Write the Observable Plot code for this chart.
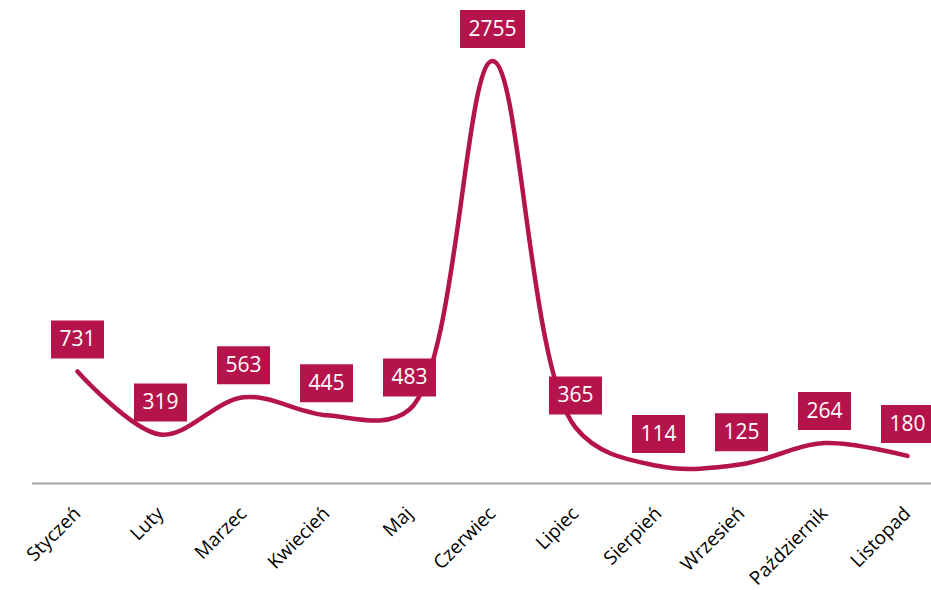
<!DOCTYPE html>
<html>
<head>
<meta charset="utf-8">
<script src="https://cdn.jsdelivr.net/npm/d3@7"></script>
<script src="https://cdn.jsdelivr.net/npm/@observablehq/plot@0.6"></script>
<style>
  html, body { margin: 0; padding: 0; background: #fff; }
</style>
</head>
<body>
<div id="chart"></div>
<script>
const months = ["Styczeń","Luty","Marzec","Kwiecień","Maj","Czerwiec","Lipiec","Sierpień","Wrzesień","Październik","Listopad"];
const values = [731, 319, 563, 445, 483, 2755, 365, 114, 125, 264, 180];

const data = months.map((m, i) => ({month: m, value: values[i]}));
const color = "#b5134b";

function boxSymbol(w, h) {
  return { draw(ctx) { ctx.rect(-w / 2, -h / 2, w, h); } };
}
const box3 = boxSymbol(53, 38);
const box4 = boxSymbol(65, 38);

const chart = Plot.plot({
  width: 931,
  height: 590,
  marginTop: 23,
  marginBottom: 107,
  marginLeft: 32,
  marginRight: 0,
  style: {fontFamily: "'Open Sans', sans-serif", background: "#fff"},
  x: {type: "point", domain: months, range: [73, 911], padding: 0},
  y: {domain: [0, 3000], axis: null},
  marks: [
    Plot.ruleY([0], {stroke: "#a6a6a6", strokeWidth: 2}),
    Plot.line(data, {x: "month", y: "value", stroke: color, strokeWidth: 4.5, curve: "catmull-rom", strokeLinecap: "round"}),
    Plot.dot(data, {x: "month", y: "value", dy: -32, r: 10, fill: color, stroke: "none",
      symbol: d => String(d.value).length >= 4 ? box4 : box3}),
    Plot.text(data, {x: "month", y: "value", dy: -32, text: d => String(d.value), fill: "white", fontSize: 21}),
    Plot.axisX({tickSize: 0, tickRotate: -45, tickPadding: 27, dx: 0, fontSize: 19, fill: "#000", label: null})
  ]
});
document.getElementById("chart").appendChild(chart);
</script>
</body>
</html>
